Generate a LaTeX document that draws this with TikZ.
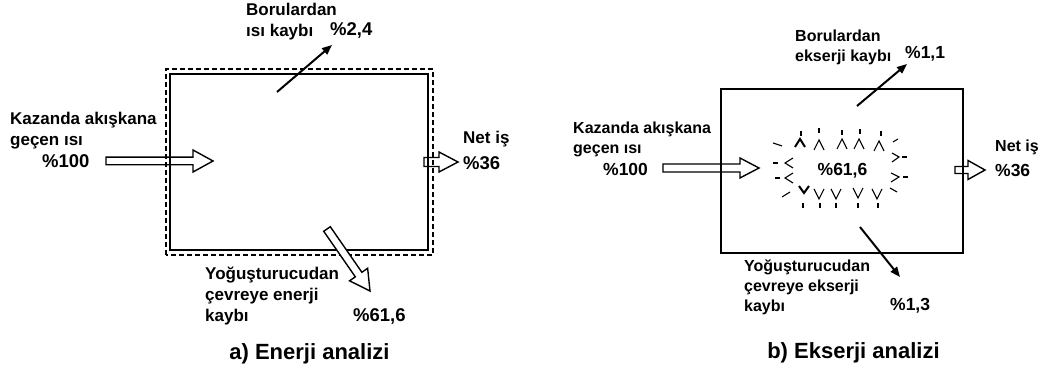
\documentclass[tikz,border=0pt]{standalone}
\usepackage{fontspec}
\setmainfont{Liberation Sans}
\usetikzlibrary{arrows.meta, calc}

% open block arrow from one coordinate to another: shaft half width, head half width, head length
\newcommand{\hollowarrow}[5]{%
  \draw[fatarrow] let \p1=($(#2)-(#1)$), \n1={atan2(\y1,\x1)}, \n2={veclen(\x1,\y1)} in
    [shift={(#1)}, rotate=\n1]
    (0pt,-#3pt) -- (\n2-#5pt,-#3pt) -- (\n2-#5pt,-#4pt) -- (\n2,0pt)
    -- (\n2-#5pt,#4pt) -- (\n2-#5pt,#3pt) -- (0pt,#3pt) -- cycle;}

\begin{document}
\begin{tikzpicture}[x=1pt, y=1pt, >={Triangle[length=10pt,width=8pt]},
  lbl/.style={inner sep=0pt, anchor=north west, align=left, font=\bfseries\fontsize{17}{21}\selectfont},
  lblR/.style={lbl, font=\bfseries\fontsize{16}{20}\selectfont},
  pct/.style={inner sep=0pt, anchor=north west, font=\bfseries\fontsize{18.5}{22}\selectfont},
  pctR/.style={pct, font=\bfseries\fontsize{17.5}{21}\selectfont},
  caption/.style={inner sep=0pt, anchor=north, font=\bfseries\fontsize{22}{26}\selectfont},
  boxline/.style={line width=2pt},
  dashbox/.style={line width=1.8pt, dash pattern=on 5pt off 3pt},
  thinarr/.style={->, line width=2pt},
  fatarrow/.style={draw, fill=white, line width=1.4pt, line join=miter},
  burst/.style={line width=1.1pt},
  burstB/.style={line width=2pt}]
  \useasboundingbox (0,0) rectangle (1042,374);

  % a) energy balance
  \coordinate (inAs) at (106,213);
  \coordinate (inAe) at (213,213);
  \coordinate (netAs) at (424,212);
  \coordinate (netAe) at (458,212);
  \coordinate (condAs) at (327,145);
  \coordinate (condAe) at (370,83);
  \hollowarrow{inAs}{inAe}{3.8}{11}{20}
  \hollowarrow{netAs}{netAe}{4.5}{10}{19}
  \draw[dashbox] (166,119) rectangle (433,305);
  \draw[boxline] (170,124) rectangle (428,300);
  \hollowarrow{condAs}{condAe}{4}{11}{20}

  \node[lbl] (pipeA) at (246,370.7) {Borulardan\\ısı kaybı};
  \node[pct] (pipeApct) at (330,351.3) {\%2,4};
  \coordinate (pipeAs) at (277,282);
  \coordinate (pipeAe) at (332,329);
  \draw[thinarr] (pipeAs) -- (pipeAe);

  \node[lbl] (inA) at (10,262.3) {Kazanda akışkana\\geçen ısı};
  \node[pct] (inApct) at (42,220) {\%100};
  \node[lbl] (netA) at (463,243.3) {Net iş};
  \node[pct] (netApct) at (463,217.3) {\%36};
  \node[lbl] (condA) at (205,107.3) {Yoğuşturucudan\\çevreye enerji\\kaybı};
  \node[pct] (condApct) at (353,65.7) {\%61,6};
  \node[caption] (capA) at (309.5,30.7) {a) Enerji analizi};

  % b) exergy balance
  \coordinate (inBs) at (663,206);
  \coordinate (inBe) at (759,206);
  \coordinate (netBs) at (955,204);
  \coordinate (netBe) at (985,204);
  \hollowarrow{inBs}{inBe}{4}{10}{19}
  \hollowarrow{netBs}{netBe}{3.5}{9.5}{17}
  \draw[boxline] (721,121) rectangle (963,285);

  \node[lblR] (pipeB) at (795,344.7) {Borulardan\\ekserji kaybı};
  \node[pctR] (pipeBpct) at (905,328.3) {\%1,1};
  \coordinate (pipeBs) at (857,268);
  \coordinate (pipeBe) at (907,310);
  \draw[thinarr] (pipeBs) -- (pipeBe);

  \node[lblR] (inB) at (573,252) {Kazanda akışkana\\geçen ısı};
  \node[pctR] (inBpct) at (603,211.3) {\%100};
  \node[pctR, anchor=north] (destB) at (842.5,211.3) {\%61,6};
  \node[lblR] (netB) at (995,234) {Net iş};
  \node[pctR] (netBpct) at (995,209.7) {\%36};

  \coordinate (condBs) at (860,147);
  \coordinate (condBe) at (900,97);
  \draw[thinarr] (condBs) -- (condBe);
  \node[lblR] (condB) at (744,114.7) {Yoğuşturucudan\\çevreye ekserji\\kaybı};
  \node[pctR] (condBpct) at (890,76.3) {\%1,3};
  \node[caption] (capB) at (853.5,31.3) {b) Ekserji analizi};

  % destruction marks round the exergy loss
  \draw[burstB] (795,227) -- (800,235) -- (805,227);
  \foreach \x/\y in {819/234, 842/235, 859/235, 879/233}
    \draw[burst] (\x-5,\y-10) -- (\x,\y) -- (\x+5,\y-10);
  \foreach \x/\y in {801/238, 819/241, 842/239, 860/240, 881/238}
    \draw[burst] (\x,\y) -- (\x,\y+5);
  \draw[burstB] (799,188) -- (804,181) -- (809,188);
  \foreach \x/\y in {819/175, 836/175, 858/176, 877/175}
    \draw[burst] (\x-5,\y+10) -- (\x,\y) -- (\x+5,\y+10);
  \foreach \x in {803,820,836,858,878}
    \draw[burst] (\x,166) -- (\x,171);
  \draw[burst] (773,231) -- (782,228);
  \draw[burst] (773,211) -- (778,211);
  \draw[burst] (793,216) -- (785,211) -- (793,206);
  \draw[burst] (775,196) -- (780,196);
  \draw[burst] (793,201) -- (785,196) -- (793,191);
  \draw[burst] (782,177) -- (790,182);
  \draw[burst] (893,232) -- (898,235);
  \draw[burst] (892,221) -- (899,217) -- (892,212);
  \draw[burst] (902,217) -- (907,217);
  \draw[burst] (891,201) -- (899,197) -- (891,192);
  \draw[burst] (903,197) -- (908,197);
  \draw[burst] (890,186) -- (897,182);
\end{tikzpicture}
\end{document}
